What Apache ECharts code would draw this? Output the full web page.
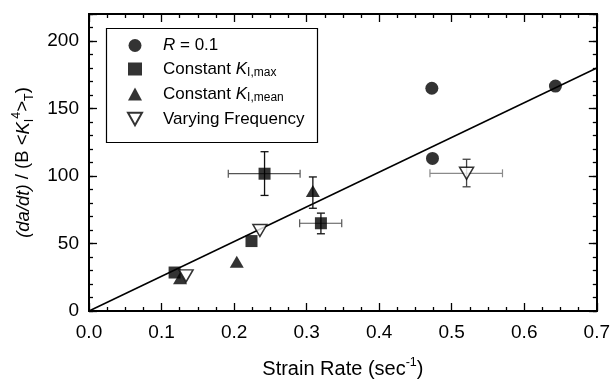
<!DOCTYPE html>
<html><head><meta charset="utf-8">
<script src="https://cdn.jsdelivr.net/npm/echarts@6/dist/echarts.min.js"></script>
<style>html,body{margin:0;padding:0;background:#fff}#c{width:613px;height:384px}</style>
</head><body><div id="c"></div>
<script>
// ---- data ----
const seriesNames = ['R = 0.1', 'Constant K_I,max', 'Constant K_I,mean', 'Varying Frequency'];
const circlePts = [[0.4726, 165], [0.4735, 113], [0.643, 166.6]];
const squarePts = [[0.118, 28.5], [0.224, 51.8], [0.242, 101.7], [0.3197, 65]];
const trianglePts = [[0.1255, 24.3], [0.2037, 36.5], [0.3086, 88.8]];
const invTrianglePts = [[0.1338, 26], [0.2356, 59.6], [0.5205, 102]];
// horizontal error bars: [x, y, xLow, xHigh]
const xErrors = [[0.242, 101.7, 0.192, 0.291], [0.3197, 65, 0.2904, 0.3484], [0.5205, 102, 0.470, 0.570]];
// vertical error bars: [x, y, yLow, yHigh]
const yErrors = [[0.242, 101.7, 85.6, 118], [0.3197, 65, 57.2, 72.5], [0.3086, 88.8, 76.1, 99.3], [0.5205, 102, 92, 112.4]];
const fitLine = [[0, 0], [0.7, 180]];
const xTicks = [0, 0.1, 0.2, 0.3, 0.4, 0.5, 0.6, 0.7];
const yTicks = [0, 50, 100, 150, 200];

const FONT = 'Liberation Sans, Arial, sans-serif';
const chart = echarts.init(document.getElementById('c'), null, {renderer: 'canvas'});

const invTriPath = 'path://M0,0 L20,0 L10,18 Z';

function errXRender(params, api) {
  const y = api.value(1), lo = api.value(2), hi = api.value(3);
  const a = api.coord([lo, y]), b = api.coord([hi, y]);
  const col = params.dataIndex === 2 ? '#8a8a8a' : '#555';
  const st = {stroke: col, lineWidth: 1.2};
  return {type: 'group', children: [
    {type: 'line', shape: {x1: a[0], y1: a[1], x2: b[0], y2: b[1]}, style: st},
    {type: 'line', shape: {x1: a[0], y1: a[1] - 4, x2: a[0], y2: a[1] + 4}, style: st},
    {type: 'line', shape: {x1: b[0], y1: b[1] - 4, x2: b[0], y2: b[1] + 4}, style: st}
  ]};
}
function errYRender(params, api) {
  const x = api.value(0), lo = api.value(2), hi = api.value(3);
  const a = api.coord([x, lo]), b = api.coord([x, hi]);
  const col = params.dataIndex === 3 ? '#444' : '#111';
  const st = {stroke: col, lineWidth: 1.3};
  return {type: 'group', children: [
    {type: 'line', shape: {x1: a[0], y1: a[1], x2: b[0], y2: b[1]}, style: st},
    {type: 'line', shape: {x1: a[0] - 4, y1: a[1], x2: a[0] + 4, y2: a[1]}, style: st},
    {type: 'line', shape: {x1: b[0] - 4, y1: b[1], x2: b[0] + 4, y2: b[1]}, style: st}
  ]};
}

const axisLine = {show: true, onZero: false, lineStyle: {color: '#000', width: 2}};
const baseX = {
  type: 'value', min: 0, max: 0.7, interval: 0.1, gridIndex: 0,
  axisLine: axisLine, splitLine: {show: false},
  axisTick: {show: true, inside: true, length: 8, lineStyle: {color: '#000', width: 1.3}},
  minorTick: {show: true, splitNumber: 4, length: 4, lineStyle: {color: '#000', width: 1.3}}
};
const baseY = (pos, interval, len, labels) => ({
  type: 'value', min: 0, max: 220, interval: interval, position: pos, gridIndex: 0,
  axisLine: axisLine, splitLine: {show: false},
  axisTick: {show: true, inside: true, length: len, lineStyle: {color: '#000', width: 1.3}},
  axisLabel: labels ? {
    show: true, color: '#000', fontFamily: FONT, fontSize: 19, margin: 10,
    formatter: v => (yTicks.indexOf(v) >= 0 ? String(v) : '')
  } : {show: false}
});

const yRich = {
  i: {fontStyle: 'italic', fontFamily: FONT, fontSize: 18.5, color: '#000', lineHeight: 26},
  n: {fontFamily: FONT, fontSize: 18.5, color: '#000', lineHeight: 26},
  sub: {fontFamily: FONT, fontSize: 12.5, color: '#000', verticalAlign: 'bottom', lineHeight: 26},
  sup: {fontFamily: FONT, fontSize: 12.5, color: '#000', verticalAlign: 'top', lineHeight: 26}
};
const xRich = {
  n: {fontFamily: FONT, fontSize: 20, color: '#000', lineHeight: 26},
  sup: {fontFamily: FONT, fontSize: 12.5, color: '#000', verticalAlign: 'top', lineHeight: 26}
};
const legRich = {
  p: {width: 16, fontSize: 17, lineHeight: 20},
  i: {fontStyle: 'italic', fontFamily: FONT, fontSize: 17, color: '#000', lineHeight: 20},
  n: {fontFamily: FONT, fontSize: 17, color: '#000', lineHeight: 20},
  sub: {fontFamily: FONT, fontSize: 12, color: '#000', verticalAlign: 'bottom', lineHeight: 16}
};
const legendText = {
  'R = 0.1': '{p|}{i|R}{n| = 0.1}',
  'Constant K_I,max': '{p|}{n|Constant }{i|K}{sub|I,max}',
  'Constant K_I,mean': '{p|}{n|Constant }{i|K}{sub|I,mean}',
  'Varying Frequency': '{p|}{n|Varying Frequency}'
};

const option = {
  animation: false,
  backgroundColor: '#fff',
  grid: {left: 89, right: 13, top: 14, bottom: 68, containLabel: false},
  xAxis: [
    Object.assign({}, baseX, {
      position: 'bottom',
      axisLabel: {show: true, color: '#000', fontFamily: FONT, fontSize: 19, margin: 12,
        formatter: v => (xTicks.some(t => Math.abs(t - v) < 1e-9) ? v.toFixed(1) : '')},
      name: '{n|Strain Rate (sec}{sup|-1}{n|)}', nameLocation: 'middle', nameGap: 45,
      nameTextStyle: {rich: xRich}
    }),
    Object.assign({}, baseX, {position: 'top', axisLabel: {show: false}})
  ],
  yAxis: [
    Object.assign(baseY('left', 10, 4, true), {
      name: '{i|(da/dt)}{n| / (B <}{i|K}{sub|I}{sup|4}{n|>}{sub|T}{n|)}',
      nameLocation: 'middle', nameGap: 48, nameRotate: 90,
      nameTextStyle: {rich: yRich}
    }),
    baseY('left', 50, 8, false),
    baseY('right', 10, 4, false),
    baseY('right', 50, 8, false)
  ],
  legend: {
    orient: 'vertical', left: 127, top: 37, itemGap: 6.5,
    itemWidth: 14, itemHeight: 13, padding: 0,
    data: seriesNames,
    formatter: name => legendText[name],
    textStyle: {rich: legRich, fontFamily: FONT, fontSize: 17, color: '#000'}
  },
  graphic: [{
    type: 'rect', left: 104, top: 26, shape: {width: 211, height: 114},
    style: {fill: 'none', stroke: '#000', lineWidth: 1.2}, z: 10
  }],
  series: [
    {type: 'line', data: fitLine, showSymbol: false, symbol: 'none', lineStyle: {color: '#000', width: 1.5}, z: 1, silent: true, legendHoverLink: false},
    {type: 'custom', name: 'ex', data: xErrors, renderItem: errXRender, z: 2, encode: {x: 0, y: 1}},
    {type: 'custom', name: 'ey', data: yErrors, renderItem: errYRender, z: 2, encode: {x: 0, y: 1}},
    {type: 'scatter', name: seriesNames[0], data: circlePts, symbol: 'circle', symbolSize: 13, itemStyle: {color: '#000'}, z: 5},
    {type: 'scatter', name: seriesNames[1], data: squarePts, symbol: 'rect', symbolSize: 12, itemStyle: {color: '#000'}, z: 5},
    {type: 'scatter', name: seriesNames[2], data: trianglePts, symbol: 'triangle', symbolSize: [14, 12], itemStyle: {color: '#000'}, z: 5},
    {type: 'scatter', name: seriesNames[3], data: invTrianglePts, symbol: invTriPath, symbolSize: [14, 12], itemStyle: {color: '#fff', borderColor: '#000', borderWidth: 1.5}, z: 6}
  ]
};
chart.setOption(option);
</script></body></html>
